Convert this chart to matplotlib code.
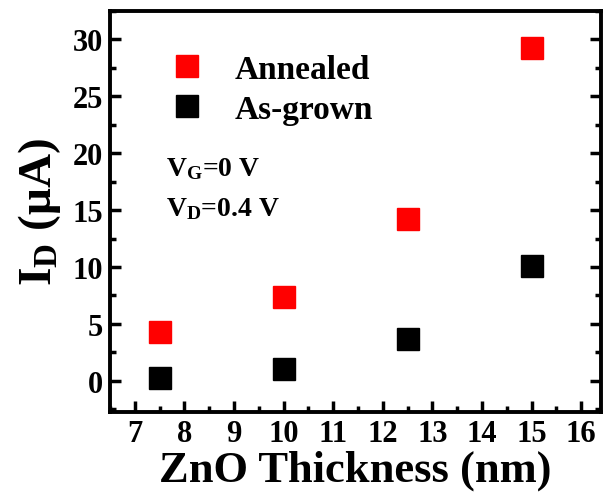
import matplotlib
matplotlib.use("Agg")
import matplotlib.pyplot as plt
from matplotlib.ticker import MultipleLocator

thickness = [7.5, 10, 12.5, 15]
annealed = [4.3, 7.35, 14.2, 29.25]
as_grown = [0.2, 1.05, 3.7, 10.1]

plt.rcParams['font.family'] = ['Liberation Serif', 'DejaVu Serif']
plt.rcParams['font.weight'] = 'bold'
plt.rcParams['mathtext.fontset'] = 'custom'
plt.rcParams['mathtext.rm'] = 'Liberation Serif:bold'
plt.rcParams['mathtext.it'] = 'Liberation Serif:bold'
plt.rcParams['mathtext.bf'] = 'Liberation Serif:bold'

fig = plt.figure(figsize=(6.03, 5.02), dpi=100)
ax = fig.add_axes([110/603, (502-413)/502, (601-110)/603, (413-12)/502])

ax.plot(thickness, annealed, 's', color='#ff0000', markersize=16, label='Annealed', linestyle='none')
ax.plot(thickness, as_grown, 's', color='black', markersize=16, label='As-grown', linestyle='none')

ax.set_xlim(6.5, 16.4)
ax.set_ylim(-2.75, 32.5)
ax.xaxis.set_major_locator(MultipleLocator(1))
ax.xaxis.set_minor_locator(MultipleLocator(0.5))
ax.yaxis.set_major_locator(MultipleLocator(5))
ax.yaxis.set_minor_locator(MultipleLocator(2.5))

for s in ax.spines.values():
    s.set_linewidth(2.8)
ax.tick_params(which='both', direction='in', width=2.5, top=False, right=True, labelsize=22)
ax.tick_params(which='major', length=8, pad=5)
ax.tick_params(which='minor', length=4)
for lab in ax.get_xticklabels() + ax.get_yticklabels():
    lab.set_fontweight('bold')

ax.set_xlabel('ZnO Thickness (nm)', fontsize=32, fontweight='bold', labelpad=1)
ax.set_ylabel(r'I$_\mathregular{D}$ ($\mathregular{\mu}$A)', fontsize=34, fontweight='bold', labelpad=7)

leg = ax.legend(loc='center left', bbox_to_anchor=(0.095, 0.805), frameon=False,
                fontsize=24, handletextpad=0.95, labelspacing=0.28, borderaxespad=0,
                handlelength=1.0, markerscale=1.0)
for t in leg.get_texts():
    t.set_fontweight('bold')

ax.text(0.115, 0.608, r'V$_\mathregular{G}$=0 V', transform=ax.transAxes, fontsize=20, fontweight='bold', va='center')
ax.text(0.115, 0.508, r'V$_\mathregular{D}$=0.4 V', transform=ax.transAxes, fontsize=20, fontweight='bold', va='center')

fig.savefig('out.png', dpi=100)
